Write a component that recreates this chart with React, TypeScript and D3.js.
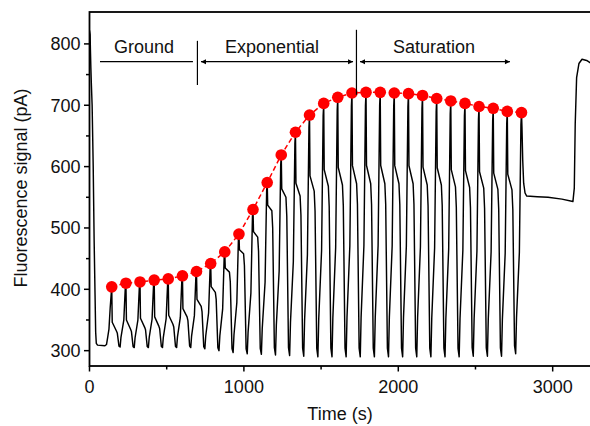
import React from 'react';
import * as d3 from 'd3';

// ---- data ----
const peakTimes = [144, 236, 327, 419, 510, 602, 693, 785, 876, 968, 1059, 1151, 1242, 1334, 1425, 1517, 1608, 1700, 1791, 1883, 1974, 2066, 2157, 2249, 2340, 2432, 2523, 2615, 2706, 2798];
const peakValues = [404, 410, 412, 415, 417, 422, 429, 442, 461, 490, 530, 574, 619, 656, 684, 703, 713, 720, 721, 721, 720, 719, 716, 711, 707, 703, 698, 695, 690, 688];
// level of the shoulder after each peak (before the deep drop)
const shoulderValues = [332, 335, 338, 340, 343, 355, 372, 395, 428, 458, 485, 528, 550, 552, 560, 568, 570, 572, 572, 572, 572, 572, 570, 570, 567, 566, 565, 563, 562];
// trough after each peak
const troughValues = [306, 305, 305, 305, 305, 305, 303, 300, 297, 295, 294, 293, 292, 291, 290, 290, 290, 290, 290, 290, 290, 290, 290, 290, 290, 291, 291, 291, 295];
// cycle shape: fraction of the cycle period
const cyclePhases = [0, 0.035, 0.33, 0.39, 0.51, 0.59, 0.65, 0.85, 0.96];
// start of the record (before the first peak)
const startTimes = [0, 4, 6, 9, 12, 17, 24, 30, 36, 40, 44, 52, 100, 110, 118, 126, 134];
const startValues = [822, 815, 790, 760, 735, 700, 600, 480, 390, 330, 312, 309, 308, 310, 322, 335, 370];
// end of the record (after the last peak)
const endTimes = [2801, 2806, 2812, 2821, 2832, 2900, 2970, 3060, 3131, 3140, 3146, 3155, 3170, 3190, 3220, 3250, 3300];
const endValues = [665, 610, 573, 557, 552, 551, 550, 547, 543, 565, 670, 745, 768, 775, 773, 768, 766];

const xMajor = [0, 1000, 2000, 3000];
const xMinor = [500, 1500, 2500];
const yMajor = [300, 400, 500, 600, 700, 800];
const yMinor = [350, 450, 550, 650, 750];

const phaseLabels = ['Ground', 'Exponential', 'Saturation'];
const phaseLabelTimes = [353, 1182, 2231];
const phaseSpans: [number, number][] = [[68, 670], [722, 1707], [1752, 2723]];
const phaseArrows = [false, true, true];
const separatorTimes = [699, 1729];
const separatorRanges: [number, number][] = [[733, 805], [717, 823]];

function buildTrace(): [number, number][] {
  const pts: [number, number][] = [];
  startTimes.forEach((t, i) => pts.push([t, startValues[i]]));
  for (let k = 0; k < peakTimes.length - 1; k++) {
    const t0 = peakTimes[k];
    const T = peakTimes[k + 1] - t0;
    const P = peakValues[k];
    const S = shoulderValues[k];
    const B = troughValues[k];
    const Pn = peakValues[k + 1];
    const vals = [
      P,
      S + 0.2 * (P - S),
      S,
      S - 0.12 * (S - B),
      B + 0.05 * (S - B),
      B,
      B + 0.15 * (Pn - B),
      B + 0.42 * (Pn - B),
      B + 0.95 * (Pn - B),
    ];
    cyclePhases.forEach((p, i) => pts.push([t0 + p * T, vals[i]]));
  }
  const last = peakTimes.length - 1;
  pts.push([peakTimes[last], peakValues[last]]);
  endTimes.forEach((t, i) => pts.push([t, endValues[i]]));
  return pts;
}

const FONT = '"Liberation Sans", Arial, Helvetica, sans-serif';

export default function App() {
  const x = d3.scaleLinear().domain([0, 3300]).range([89.5, 599]);
  const y = d3.scaleLinear().domain([275, 852]).range([366, 12]);
  const trace = buildTrace();
  const line = d3.line<[number, number]>().x(d => x(d[0])).y(d => y(d[1]));
  const dots: [number, number][] = peakTimes.map((t, i) => [t, peakValues[i]]);
  const x0 = x(0);
  const yb = y(275);
  const yt = y(852);
  const annY = y(771);
  const textY = y(785);

  const arrowHead = (xp: number, yp: number, dir: number) =>
    `M${xp},${yp}L${xp - dir * 5},${yp - 2.5}L${xp - dir * 5},${yp + 2.5}Z`;

  return (
    <svg width={590} height={426} style={{ position: 'absolute', left: 0, top: 0, background: '#fff' }}>
      <defs>
        <clipPath id="plot">
          <rect x={x0} y={yt} width={x(3300) - x0} height={yb - yt} />
        </clipPath>
      </defs>
      <rect x={0} y={0} width={590} height={426} fill="#fff" />
      <g clipPath="url(#plot)">
        <path d={line(trace) || ''} fill="none" stroke="#000" strokeWidth={1.45} strokeLinejoin="round" />
        <path d={line(dots) || ''} fill="none" stroke="#ff0000" strokeWidth={1.5} strokeDasharray="5,3" />
        {dots.map((d, i) => (
          <circle key={i} cx={x(d[0])} cy={y(d[1])} r={5.8} fill="#ff0000" />
        ))}
      </g>
      {/* frame */}
      <rect x={x0} y={yt} width={x(3300) - x0} height={yb - yt} fill="none" stroke="#000" strokeWidth={1.8} />
      {/* x ticks */}
      {xMajor.map(t => (
        <g key={'xm' + t}>
          <line x1={x(t)} x2={x(t)} y1={yb} y2={yb + 5.5} stroke="#000" strokeWidth={1.5} />
          <text x={x(t)} y={393} textAnchor="middle" fontFamily={FONT} fontSize={18} fill="#111">{t}</text>
        </g>
      ))}
      {xMinor.map(t => (
        <line key={'xn' + t} x1={x(t)} x2={x(t)} y1={yb} y2={yb + 3.5} stroke="#000" strokeWidth={1.5} />
      ))}
      {yMajor.map(v => (
        <g key={'ym' + v}>
          <line x1={x0} x2={x0 - 5.5} y1={y(v)} y2={y(v)} stroke="#000" strokeWidth={1.5} />
          <text x={80.5} y={y(v) + 6.5} textAnchor="end" fontFamily={FONT} fontSize={18} fill="#111">{v}</text>
        </g>
      ))}
      {yMinor.map(v => (
        <line key={'yn' + v} x1={x0} x2={x0 - 3.5} y1={y(v)} y2={y(v)} stroke="#000" strokeWidth={1.5} />
      ))}
      <text x={340} y={420} textAnchor="middle" fontFamily={FONT} fontSize={18} fill="#111">Time (s)</text>
      <text transform={`translate(27,188) rotate(-90)`} textAnchor="middle" fontFamily={FONT} fontSize={18} fill="#111">Fluorescence signal (pA)</text>
      {/* phase annotations */}
      {phaseLabels.map((lab, i) => (
        <g key={lab}>
          <text x={x(phaseLabelTimes[i])} y={textY} textAnchor="middle" fontFamily={FONT} fontSize={18} fill="#111">{lab}</text>
          <line x1={x(phaseSpans[i][0])} x2={x(phaseSpans[i][1])} y1={annY} y2={annY} stroke="#000" strokeWidth={1.3} />
          {phaseArrows[i] && (
            <>
              <path d={arrowHead(x(phaseSpans[i][0]), annY, -1)} fill="#000" />
              <path d={arrowHead(x(phaseSpans[i][1]), annY, 1)} fill="#000" />
            </>
          )}
        </g>
      ))}
      {separatorTimes.map((t, i) => (
        <line key={'sep' + i} x1={x(t)} x2={x(t)} y1={y(separatorRanges[i][0])} y2={y(separatorRanges[i][1])} stroke="#000" strokeWidth={1.2} />
      ))}
    </svg>
  );
}
